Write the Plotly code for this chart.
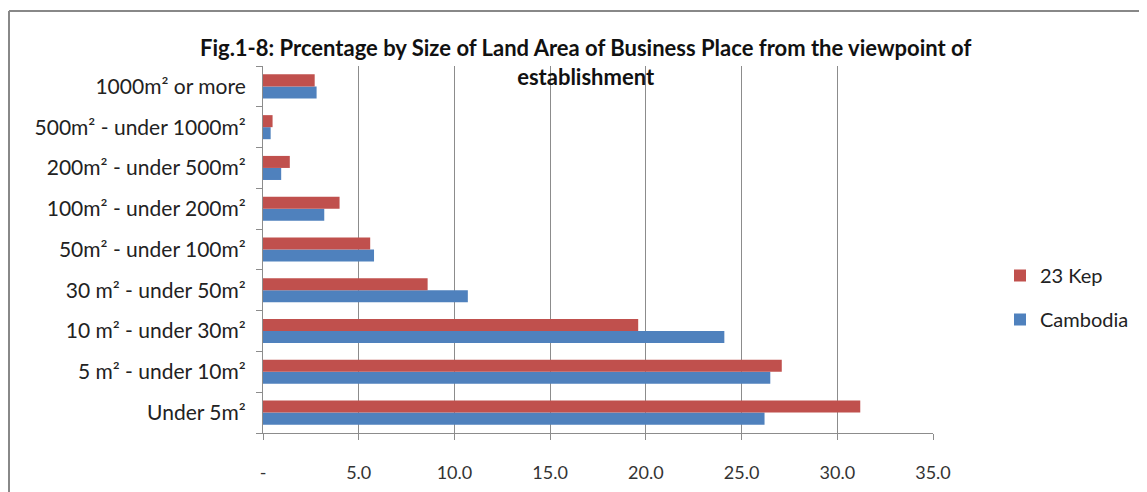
import plotly.graph_objects as go

categories = ["Under 5m²", "5 m² - under 10m²", "10 m² - under 30m²", "30 m² - under 50m²",
              "50m² - under 100m²", "100m² - under 200m²", "200m² - under 500m²",
              "500m² - under 1000m²", "1000m² or more"]
kep = [31.2, 27.1, 19.6, 8.6, 5.6, 4.0, 1.4, 0.5, 2.7]
cambodia = [26.2, 26.5, 24.1, 10.7, 5.8, 3.2, 0.95, 0.4, 2.8]
x_ticks = [0, 5, 10, 15, 20, 25, 30, 35]
x_ticktext = ["-", "5.0", "10.0", "15.0", "20.0", "25.0", "30.0", "35.0"]

OFF = 8  # page body margin
W, H = 1147 - OFF, 492 - OFF
L, R, T, B = 263 - OFF, 214, 66 - OFF, 59
pw, ph = W - L - R, H - T - B

def px_x(v):
    return (v - OFF - L) / pw

def px_y(v):
    return (H - B - (v - OFF)) / ph

font = "Lato"
fig = go.Figure()
fig.add_trace(go.Bar(y=categories, x=cambodia, orientation="h", name="Cambodia",
                     marker=dict(color="#4F81BD", line=dict(width=0)),
                     legendgroup="b", legendrank=2))
fig.add_trace(go.Bar(y=categories, x=kep, orientation="h", name="23 Kep",
                     marker=dict(color="#C0504D", line=dict(width=0)),
                     legendgroup="a", legendrank=1))

fig.update_layout(
    width=W, height=H,
    margin=dict(l=L, r=R, t=T, b=B, autoexpand=False),
    paper_bgcolor="white", plot_bgcolor="white",
    barmode="group", bargap=0.41, bargroupgap=0,
    font=dict(family=font, color="#222"),
    legend=dict(x=px_x(1000), y=px_y(256), xanchor="left", yanchor="top",
                traceorder="grouped", tracegroupgap=15,
                font=dict(size=20, color="#222"), bgcolor="rgba(0,0,0,0)"),
    xaxis=dict(range=[0, 35], tickvals=x_ticks, ticktext=x_ticktext,
               showgrid=True, gridcolor="#8c8c8c", gridwidth=1,
               showline=True, linecolor="#8c8c8c", linewidth=1,
               ticks="outside", ticklen=6, tickcolor="#8c8c8c",
               ticklabelstandoff=17,
               tickfont=dict(size=18, color="#333"), zeroline=False),
    yaxis=dict(showline=True, linecolor="#8c8c8c", linewidth=1,
               ticks="outside", ticklen=6, tickcolor="#8c8c8c", tickson="boundaries",
               tickfont=dict(size=21, color="#222"), showgrid=False,
               ticklabelstandoff=12, automargin=False),
    annotations=[dict(text="<b>Fig.1-8: Prcentage by Size of Land Area of Business Place from the viewpoint of<br>establishment</b>",
                      xref="paper", yref="paper", x=px_x(585), y=px_y(32),
                      xanchor="center", yanchor="top", showarrow=False,
                      font=dict(size=22, color="#111", family=font), align="center")],
    shapes=[
        dict(type="line", xref="paper", yref="paper", x0=px_x(9), x1=px_x(9), y0=px_y(11), y1=px_y(500),
             line=dict(color="#888", width=2)),
        dict(type="line", xref="paper", yref="paper", x0=px_x(9), x1=px_x(1160), y0=px_y(11), y1=px_y(11),
             line=dict(color="#888", width=2)),
    ],
)
fig.write_html("out.html")
